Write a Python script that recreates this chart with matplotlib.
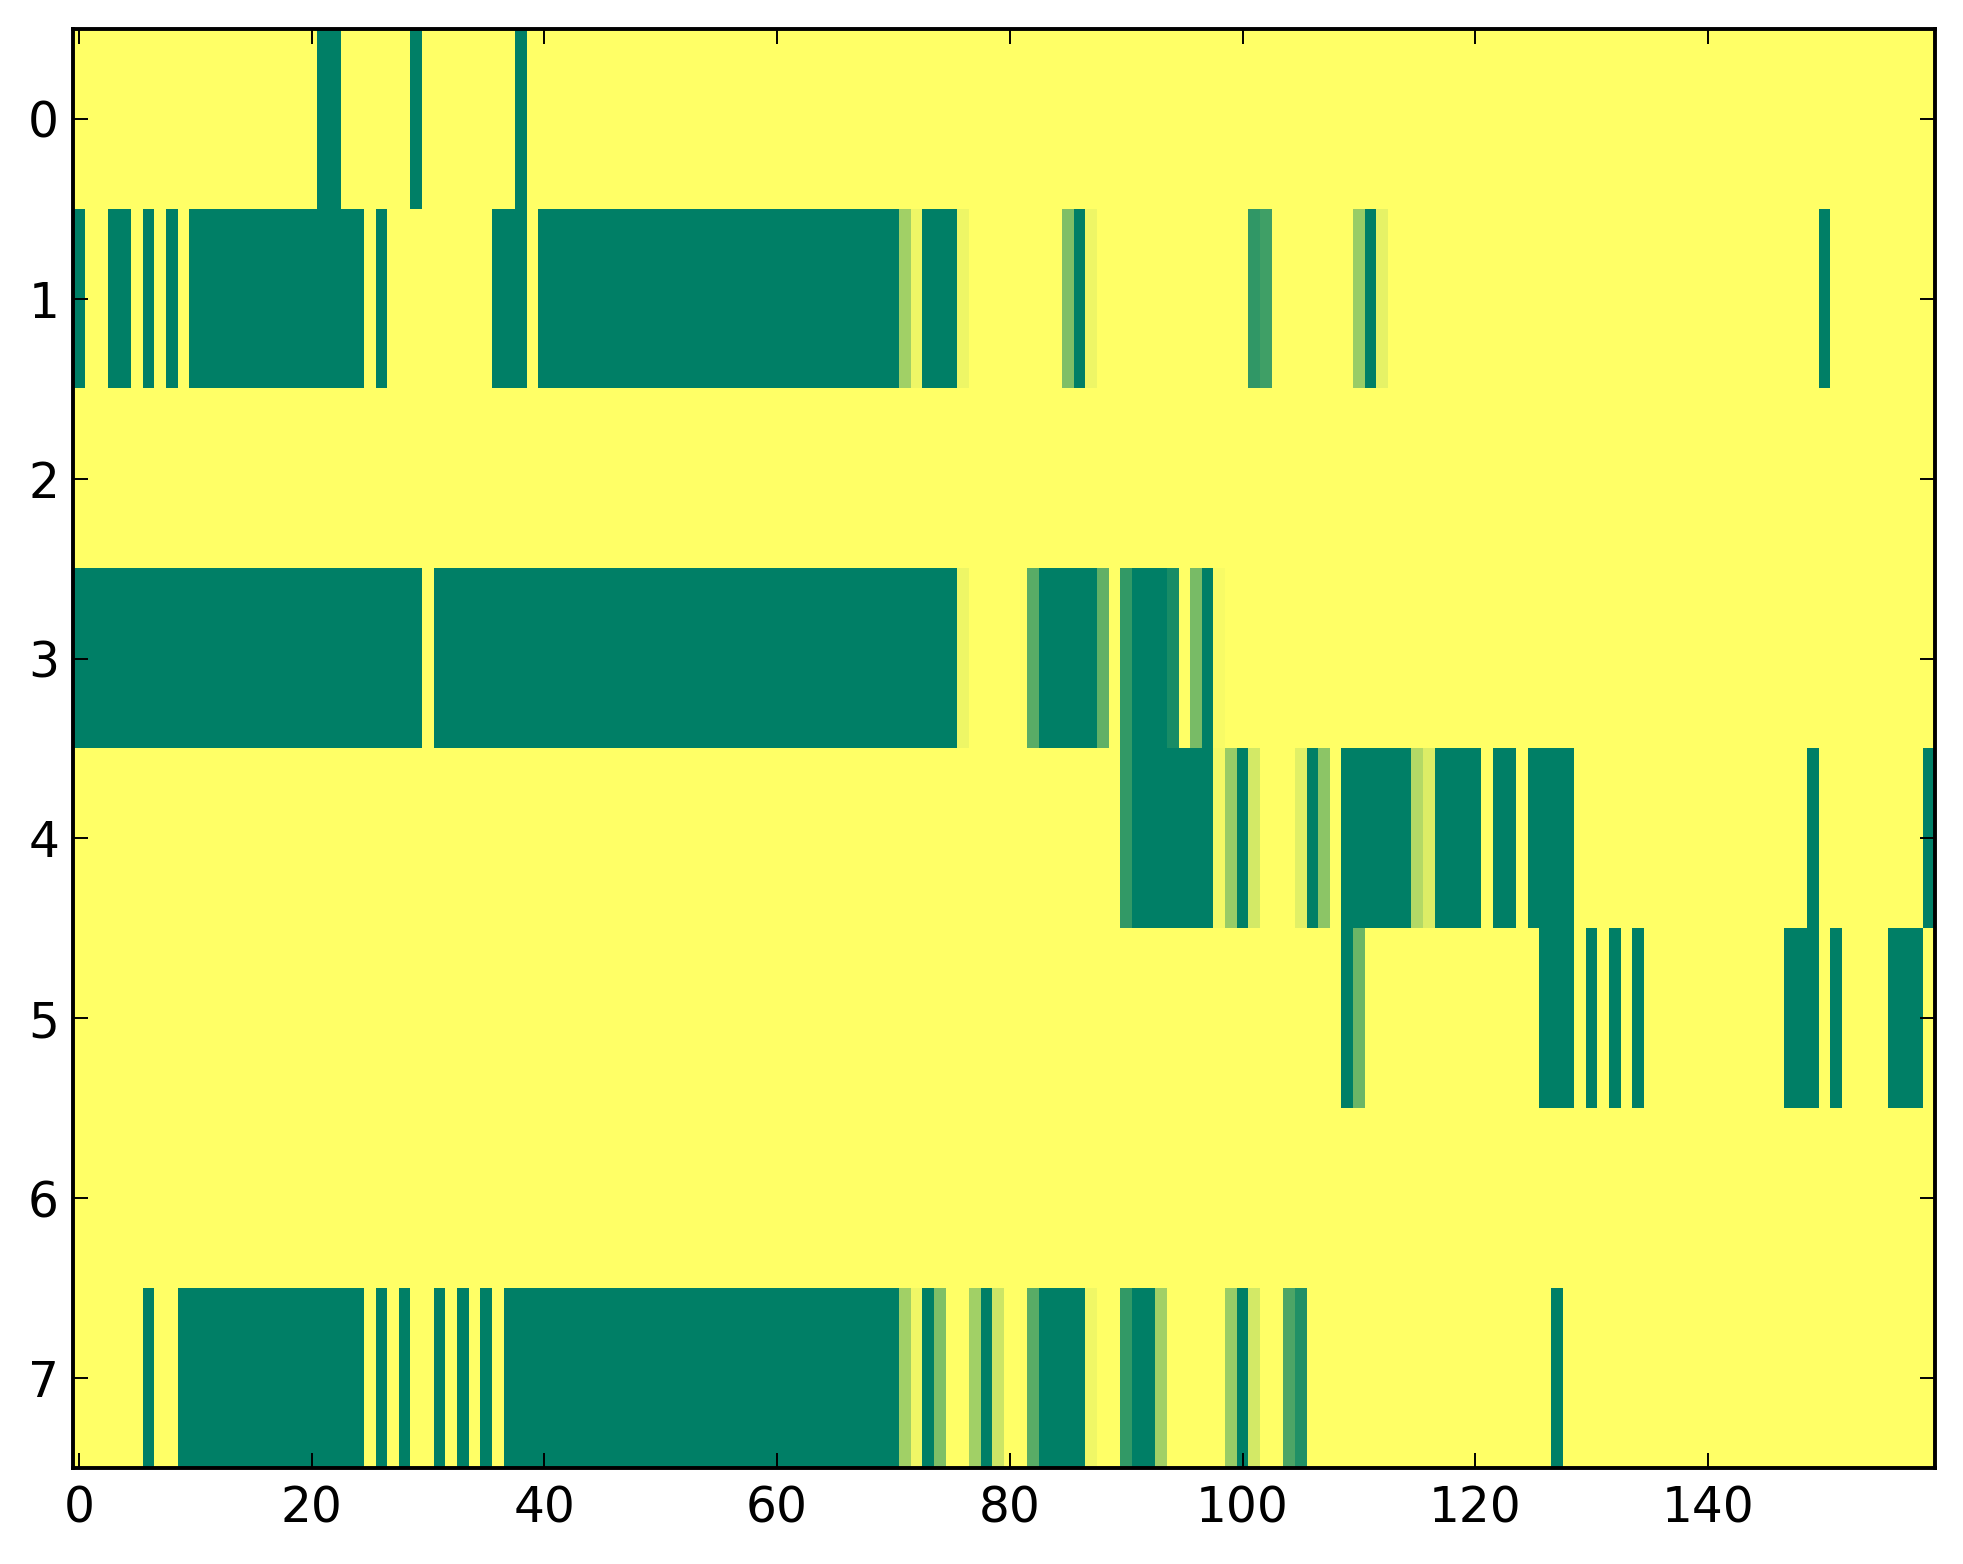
import numpy as np
import matplotlib
matplotlib.use('Agg')
import matplotlib.pyplot as plt

n_cols = 160
n_rows = 8

# runs of cells: (first column, last column, value)
row0 = [(21, 22, 1), (29, 29, 1), (38, 38, 1)]
row1 = [(0, 0, 1), (3, 4, 1), (6, 6, 1), (8, 8, 1), (10, 24, 1), (26, 26, 1),
        (36, 38, 1), (40, 70, 1), (71, 71, 0.37), (72, 72, 0.07), (73, 75, 1),
        (76, 76, 0.07), (85, 85, 0.5), (86, 86, 1), (87, 87, 0.07),
        (101, 101, 0.81), (102, 102, 0.75), (110, 110, 0.4), (111, 111, 1),
        (112, 112, 0.1), (150, 150, 1)]
row2 = []
row3 = [(0, 29, 1), (31, 75, 1), (76, 76, 0.07), (82, 82, 0.65), (83, 87, 1),
        (88, 88, 0.62), (90, 90, 0.8), (91, 93, 1), (94, 94, 0.9),
        (96, 96, 0.53), (97, 97, 1), (98, 98, 0.03)]
row4 = [(90, 90, 0.8), (91, 97, 1), (98, 98, 0.05), (99, 99, 0.4), (100, 100, 1),
        (101, 101, 0.17), (105, 105, 0.12), (106, 106, 1), (107, 107, 0.45),
        (109, 114, 1), (115, 115, 0.3), (116, 116, 0.14), (117, 120, 1),
        (122, 123, 1), (125, 128, 1), (149, 149, 1), (159, 159, 1)]
row5 = [(109, 109, 1), (110, 110, 0.58), (126, 128, 1), (130, 130, 1),
        (132, 132, 1), (134, 134, 1), (147, 149, 1), (151, 151, 1), (156, 158, 1)]
row6 = []
row7 = [(6, 6, 1), (9, 24, 1), (26, 26, 1), (28, 28, 1), (31, 31, 1), (33, 33, 1),
        (35, 35, 1), (37, 70, 1), (71, 71, 0.37), (72, 72, 0.06), (73, 73, 1),
        (74, 74, 0.5), (77, 77, 0.37), (78, 78, 1), (79, 79, 0.2), (82, 82, 0.65),
        (83, 86, 1), (87, 87, 0.06), (90, 90, 0.8), (91, 92, 1), (93, 93, 0.37),
        (99, 99, 0.4), (100, 100, 1), (101, 101, 0.17), (104, 104, 0.7),
        (105, 105, 0.87), (127, 127, 1)]

rows = [row0, row1, row2, row3, row4, row5, row6, row7]
grid = np.zeros((n_rows, n_cols))
for r, runs in enumerate(rows):
    for a, b, v in runs:
        grid[r, a:b + 1] = v

fig = plt.figure(figsize=(1963 / 200, 1564 / 200), dpi=200)
ax = fig.add_axes([73 / 1963, 1 - 1468 / 1564, (1935 - 73) / 1963, (1468 - 29) / 1564])
ax.imshow(grid, cmap='summer_r', vmin=0, vmax=1, aspect='auto', interpolation='nearest')

ax.set_xticks(np.arange(0, 160, 20))
ax.set_yticks(np.arange(0, 8))
ax.tick_params(direction='in', top=True, right=True, length=5.5, width=0.7,
               labelsize=17.5)
ax.tick_params(axis='x', pad=6)
ax.tick_params(axis='y', pad=5)
for s in ax.spines.values():
    s.set_linewidth(1.4)

fig.savefig('out.png', dpi=200)
